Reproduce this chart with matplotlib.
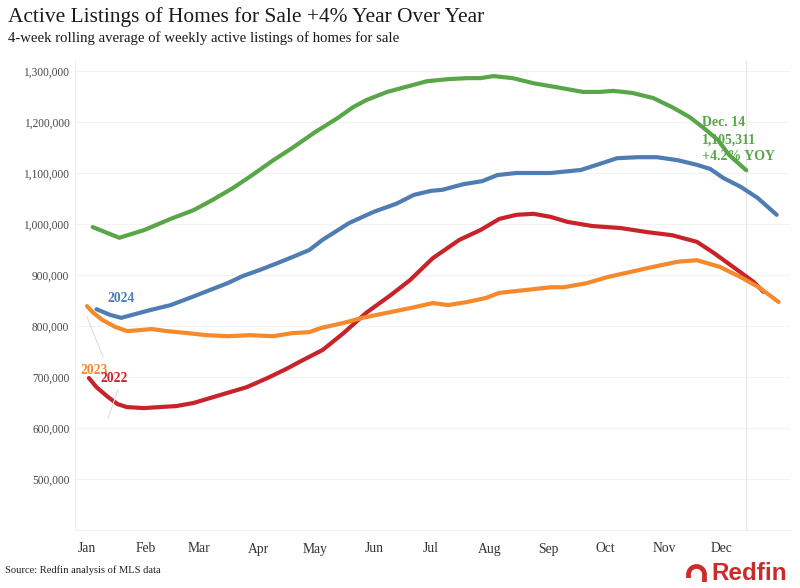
import matplotlib
matplotlib.use("Agg")
import matplotlib.pyplot as plt
from matplotlib.lines import Line2D
import numpy as np

# ---------------- data (day of year, listings) ----------------
months = ["Jan", "Feb", "Mar", "Apr", "May", "Jun", "Jul", "Aug", "Sep", "Oct", "Nov", "Dec"]
month_start_days = [0, 31, 59, 90, 120, 151, 181, 212, 243, 273, 304, 334]

days_2025 = [3, 17, 30, 44, 56, 66, 77, 87, 98, 108, 120, 132, 140, 147, 158, 168, 179, 190,
             200, 207, 214, 224, 235, 249, 261, 270, 277, 287, 298, 308, 317, 324, 332, 338, 347]
vals_2025 = [994, 973, 988, 1010, 1027, 1047, 1071, 1096, 1125, 1149, 1180, 1208, 1229, 1243,
             1259, 1269, 1280, 1284, 1286, 1286, 1290, 1286, 1276, 1267, 1259, 1259, 1261, 1257,
             1247, 1229, 1210, 1190, 1165, 1135, 1105.311]

days_2024 = [5, 12, 18, 24, 33, 44, 54, 65, 74, 82, 91, 100, 108, 117, 124, 138, 151, 163, 172,
             181, 187, 198, 208, 216, 226, 244, 260, 270, 279, 290, 300, 311, 321, 328, 335, 344,
             353, 363]
vals_2024 = [833, 822, 816, 822, 831, 841, 855, 871, 884, 898, 910, 923, 935, 949, 969, 1002,
             1024, 1040, 1057, 1065, 1067, 1078, 1084, 1096, 1100, 1100, 1106, 1118, 1129, 1131,
             1131, 1125, 1116, 1108, 1090, 1073, 1051, 1018]

days_2023 = [0, 3, 8, 15, 21, 28, 34, 42, 53, 63, 74, 86, 98, 108, 117, 123, 135, 145, 158, 170,
             182, 190, 200, 210, 217, 232, 244, 251, 263, 274, 286, 298, 311, 321, 333, 344, 354,
             364]
vals_2023 = [839, 827, 812, 798, 790, 792, 794, 790, 786, 782, 780, 782, 780, 786, 788, 796, 806,
             816, 826, 835, 845, 841, 847, 855, 865, 871, 876, 876, 884, 896, 906, 916, 926, 929,
             916, 896, 875, 847]

days_2022 = [1, 5, 11, 16, 21, 30, 38, 47, 56, 65, 74, 84, 95, 105, 112, 124, 135, 147, 160, 170,
             182, 196, 207, 217, 226, 235, 244, 253, 266, 281, 295, 308, 321, 330, 340, 351, 356]
vals_2022 = [698, 680, 661, 647, 641, 639, 641, 643, 649, 659, 669, 680, 698, 716, 730, 753, 786,
             826, 861, 890, 933, 969, 988, 1010, 1018, 1020, 1014, 1004, 996, 992, 984, 978, 965,
             943, 916, 886, 867]

y_ticks = [500000, 600000, 700000, 800000, 900000, 1000000, 1100000, 1200000, 1300000]

C_GREEN = "#58a648"
C_BLUE = "#4f7db3"
C_ORANGE = "#f5892b"
C_RED = "#c8232b"

plt.rcParams["font.family"] = ["Liberation Serif", "DejaVu Serif"]

W, H = 800, 588
fig = plt.figure(figsize=(W / 100, H / 100), dpi=100)
ax = fig.add_axes([75 / W, 58 / H, 715 / W, (530 - 60.8) / H])


def px(x, y):
    return x / W, 1 - y / H


ax.set_xlim(-6.32, 370)
ax.set_ylim(400000, 1320000)

for s in ["top", "right"]:
    ax.spines[s].set_visible(False)
for s in ["left", "bottom"]:
    ax.spines[s].set_color("#efefef")
    ax.spines[s].set_linewidth(0.8)

ax.set_yticks(y_ticks)
ax.set_yticklabels([f"{v:,}" for v in y_ticks])
ax.set_xticks(month_start_days)
ax.set_xticklabels(months)
ax.tick_params(axis="y", length=0, pad=4, labelsize=8.3, labelcolor="#4a4a4a")
ax.tick_params(axis="x", length=0, pad=9, labelsize=9.8, labelcolor="#333333")
ax.grid(axis="y", color="#f3f3f3", linewidth=0.8)
ax.set_axisbelow(True)

# Dec 14 marker line
ax.axvline(days_2025[-1], color="#e8e8e8", linewidth=0.9, zorder=1)

def k(v):
    return [x * 1000 for x in v]

lw = 3.0
ax.plot(days_2022, k(vals_2022), color=C_RED, lw=lw, solid_capstyle="round", solid_joinstyle="round", zorder=4)
ax.plot(days_2023, k(vals_2023), color=C_ORANGE, lw=lw, solid_capstyle="round", solid_joinstyle="round", zorder=5)
ax.plot(days_2024, k(vals_2024), color=C_BLUE, lw=lw, solid_capstyle="round", solid_joinstyle="round", zorder=6)
ax.plot(days_2025, k(vals_2025), color=C_GREEN, lw=lw, solid_capstyle="round", solid_joinstyle="round", zorder=7)

# end annotation (drawn under the green line)
ann = ["Dec. 14", f"{int(round(vals_2025[-1] * 1000)):,}", "+4.2% YOY"]
for i, t in enumerate(ann):
    fig.text(*px(702, 123 + 17 * i), t, color=C_GREEN, fontsize=10, fontweight="bold",
             ha="left", va="center", zorder=3)

# series labels with leader lines
fig.add_artist(Line2D([87 / W, 103 / W], [1 - 317 / H, 1 - 357 / H], color="#dddddd", lw=0.8))
fig.add_artist(Line2D([118 / W, 108 / W], [1 - 390 / H, 1 - 418 / H], color="#dddddd", lw=0.8))
fig.text(*px(107, 299), "2024", color=C_BLUE, fontsize=9.8, fontweight="bold", ha="left", va="center")
fig.text(*px(80, 370), "2023", color=C_ORANGE, fontsize=9.8, fontweight="bold", ha="left", va="center")
fig.text(*px(100, 378), "2022", color=C_RED, fontsize=9.8, fontweight="bold", ha="left", va="center")

# titles
fig.text(*px(8, 17), "Active Listings of Homes for Sale +4% Year Over Year", fontsize=15.4,
         color="#1a1a1a", ha="left", va="center")
fig.text(*px(8, 38), "4-week rolling average of weekly active listings of homes for sale",
         fontsize=10.6, color="#1a1a1a", ha="left", va="center")
fig.text(*px(5, 570), "Source: Redfin analysis of MLS data", fontsize=7.6, color="#222222",
         ha="left", va="center")

# Redfin logo
cx, cy, r = 696.5, 574.5, 8.0
theta = np.linspace(0, np.pi, 40)
xs = [cx + r, cx + r] + list(cx + r * np.cos(theta)) + [cx - r]
ys = [582, cy] + list(cy - r * np.sin(theta)) + [578]
fig.add_artist(Line2D([x / W for x in xs], [1 - y / H for y in ys], color="#cc2b2b", lw=3.4,
                      solid_capstyle="butt", solid_joinstyle="round"))
fig.text(*px(711, 573), "Redfin", fontsize=17.5, fontweight="bold", color="#cc2b2b",
         family=["Liberation Sans", "DejaVu Sans"], ha="left", va="center")

fig.savefig("out.png", dpi=100)
